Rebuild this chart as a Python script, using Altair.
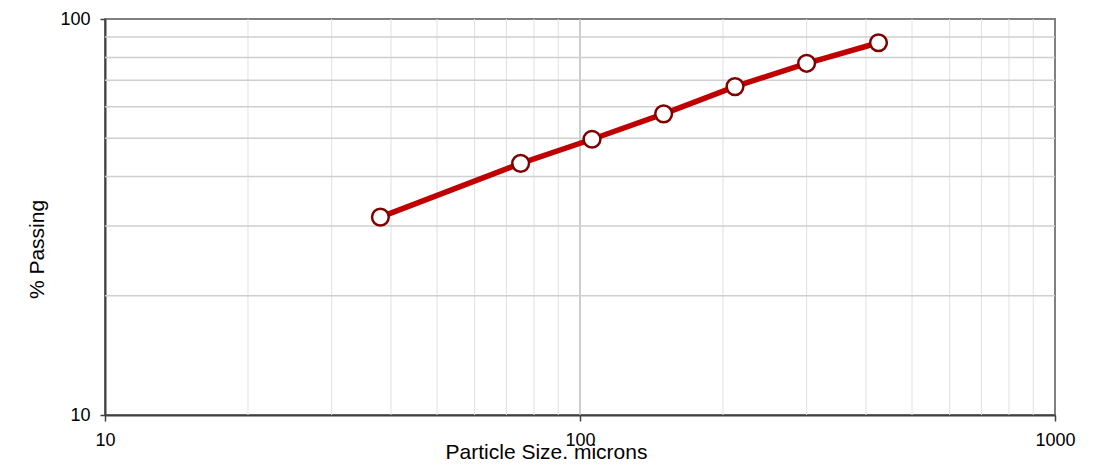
import altair as alt
import pandas as pd

# Data
particle_size = [38, 75, 106, 150, 212, 300, 425]
percent_passing = [31.6, 43.2, 49.7, 57.6, 67.5, 77.3, 87.1]

x_minor_grid = [20, 30, 40, 50, 60, 70, 80, 90, 200, 300, 400, 500, 600, 700, 800, 900]
x_major_grid = [100]
y_minor_grid = [20, 30, 40, 50, 60, 70, 80, 90]
x_ticks = [10, 100, 1000]
y_ticks = [10, 100]

df = pd.DataFrame({"size": particle_size, "passing": percent_passing})
xg_minor = pd.DataFrame({"size": x_minor_grid})
xg_major = pd.DataFrame({"size": x_major_grid})
yg_minor = pd.DataFrame({"passing": y_minor_grid})

FONT = "Liberation Sans"

xscale = alt.Scale(type="log", domain=[10, 1000], nice=False)
yscale = alt.Scale(type="log", domain=[10, 100], nice=False)

xaxis = alt.Axis(
    values=x_ticks, format="d", grid=False, title="Particle Size, microns",
    domainColor="#404040", domainWidth=2, tickColor="#404040", tickWidth=1.5,
    tickSize=6, labelPadding=24, labelBaseline="alphabetic", labelFlush=False,
    labelFontSize=18, labelFont=FONT, labelColor="#000000",
    titleFontSize=21, titleFont=FONT, titleFontWeight="normal", titleColor="#000000",
    titleX=441, titleY=43, titleAlign="center", titleBaseline="alphabetic",
)
yaxis = alt.Axis(
    values=y_ticks, format="d", grid=False, title="% Passing",
    domainColor="#404040", domainWidth=2, tickColor="#404040", tickWidth=1.5,
    tickSize=5, labelPadding=10, labelBaseline="middle", labelFlush=False,
    labelFontSize=18, labelFont=FONT, labelColor="#000000",
    titleFontSize=21, titleFont=FONT, titleFontWeight="normal", titleColor="#000000",
    titleAngle=270, titleX=-62, titleY=230, titleAlign="center", titleBaseline="alphabetic",
)

vminor = alt.Chart(xg_minor).mark_rule(color="#e0e0e0", strokeWidth=1).encode(
    x=alt.X("size:Q", scale=xscale, axis=xaxis)
)
vmajor = alt.Chart(xg_major).mark_rule(color="#bdbdbd", strokeWidth=1.5).encode(
    x=alt.X("size:Q", scale=xscale, axis=xaxis)
)
hminor = alt.Chart(yg_minor).mark_rule(color="#cfcfcf", strokeWidth=1.5).encode(
    y=alt.Y("passing:Q", scale=yscale, axis=yaxis)
)

base = alt.Chart(df).encode(
    x=alt.X("size:Q", scale=xscale, axis=xaxis),
    y=alt.Y("passing:Q", scale=yscale, axis=yaxis),
)
line = base.mark_line(color="#c00000", strokeWidth=5.5)
points = base.mark_point(
    filled=True, fill="#ffffff", stroke="#800000", strokeWidth=2.5, size=280, opacity=1
)

chart = (
    alt.layer(vminor, vmajor, hminor, line, points)
    .properties(
        width=950, height=396,
        autosize=alt.AutoSizeParams(type="none"),
        padding={"left": 97, "top": 11, "right": 44, "bottom": 44},
        background="#ffffff",
    )
    .configure_view(stroke="#808080", strokeWidth=2)
)

chart.save("out.html", embed_options={"renderer": "svg", "actions": False})
